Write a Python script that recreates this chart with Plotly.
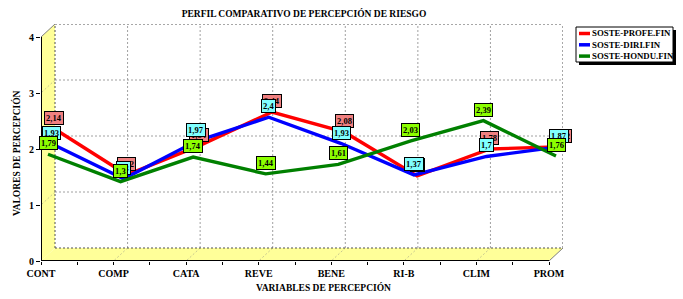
import plotly.graph_objects as go

# ---------------- data ----------------
categories = ["CONT", "COMP", "CATA", "REVE", "BENE", "RI-B", "CLIM", "PROM"]
soste_profe = [2.14, 1.32, 1.84, 2.44, 2.08, 1.30, 1.78, 1.82]
soste_diri = [1.93, 1.30, 1.97, 2.40, 1.93, 1.37, 1.70, 1.87]
soste_hondu = [1.79, 1.30, 1.74, 1.44, 1.61, 2.03, 2.39, 1.76]
series_names = ["SOSTE-PROFE.FIN", "SOSTE-DIRI.FIN", "SOSTE-HONDU.FIN"]
y_ticks = [0, 1, 2, 3, 4]

title_text = "PERFIL COMPARATIVO DE PERCEPCIÓN DE RIESGO"
x_title = "VARIABLES DE PERCEPCIÓN"
y_title = "VALORES DE PERCEPCIÓN"

# ---------------- style / geometry ----------------
W, H = 683, 299
L, R, T, B = 41, 563, 24, 261          # plot area (pixels)
DEPTH_X, DEPTH_Y = 14, 13              # 3D depth offset in pixels
YMAX = 4
N = len(categories)
px_per_cat = (R - (L + DEPTH_X)) / (N - 1)
px_per_unit = (B - DEPTH_Y - T) / YMAX
DX = DEPTH_X / px_per_cat
DY = DEPTH_Y / px_per_unit

line_colors = ["#FF0000", "#0000FF", "#008000"]
label_colors = ["#F08080", "#80FFFF", "#8CFF00"]
depths = [0.05, 0.28, 0.5]             # 0 = back wall, 1 = front
FONT = "Liberation Serif"
WALL = "#FFFF99"


def rng(d):
    return [-DX + DX * d, (N - 1) + DX * d], [-DY + DY * d, YMAX + DY * d]


def ppx(px):
    return (px - L) / (R - L)


def ppy(py):
    return (B - py) / (B - T)


fig = go.Figure()

series = [soste_profe, soste_diri, soste_hondu]
xs = list(range(N))
annotations = []
for k, (vals, name) in enumerate(zip(series, series_names)):
    ax = str(k + 3)
    fig.add_trace(go.Scatter(
        x=xs, y=vals, mode="lines", name=name,
        line=dict(color=line_colors[k], width=3.4),
        xaxis="x" + ax, yaxis="y" + ax, showlegend=False,
        hoverinfo="skip"))
for k, vals in enumerate(series):
    ax = str(k + 3)
    for i, v in enumerate(vals):
        annotations.append(dict(
            x=i, y=v, xref="x" + ax, yref="y" + ax,
            xanchor="center", yanchor="middle",
            text=f"{v:g}".replace(".", ","), showarrow=False, yshift=11,
            bgcolor=label_colors[k], bordercolor="#000000", borderwidth=1,
            borderpad=1, font=dict(family=FONT, size=8.5, color="#000000", weight="bold")))

# ---------------- 3D frame shapes (back-axis coordinates x2/y2) ----------------
shapes = []


def path(pts):
    return "M " + " L ".join(f"{x},{y}" for x, y in pts) + " Z"


# walls
shapes.append(dict(type="path", xref="x2", yref="y2", layer="below",
                   path=path([(0, 0), (0, YMAX), (-DX, YMAX - DY), (-DX, -DY)]),
                   fillcolor=WALL, line=dict(width=0)))
shapes.append(dict(type="path", xref="x2", yref="y2", layer="below",
                   path=path([(0, 0), (N - 1, 0), (N - 1 - DX, -DY), (-DX, -DY)]),
                   fillcolor=WALL, line=dict(width=0)))
# faint diagonal lines on walls
for v in y_ticks[1:-1]:
    shapes.append(dict(type="line", xref="x2", yref="y2", layer="below",
                       x0=0, y0=v, x1=-DX, y1=v - DY,
                       line=dict(color="#C8C890", width=1, dash="2px,2px")))
for i in range(1, N - 1):
    shapes.append(dict(type="line", xref="x2", yref="y2", layer="below",
                       x0=i, y0=0, x1=i - DX, y1=-DY,
                       line=dict(color="#C8C890", width=1, dash="2px,2px")))
# wall outer edges
shapes.append(dict(type="line", xref="x2", yref="y2", layer="below",
                   x0=0, y0=YMAX, x1=-DX, y1=YMAX - DY,
                   line=dict(color="#808080", width=1)))
shapes.append(dict(type="line", xref="x2", yref="y2", layer="below",
                   x0=N - 1, y0=0, x1=N - 1 - DX, y1=-DY,
                   line=dict(color="#808080", width=1)))
# back grid
for v in y_ticks[1:-1]:
    shapes.append(dict(type="line", xref="x2", yref="y2", layer="below",
                       x0=0, y0=v, x1=N - 1, y1=v,
                       line=dict(color="#A0A0A0", width=1, dash="2px,2px")))
for i in range(1, N - 1):
    shapes.append(dict(type="line", xref="x2", yref="y2", layer="below",
                       x0=i, y0=0, x1=i, y1=YMAX,
                       line=dict(color="#A0A0A0", width=1, dash="2px,2px")))
# back frame
for (x0, y0, x1, y1) in [(0, YMAX, N - 1, YMAX), (N - 1, 0, N - 1, YMAX),
                         (0, 0, 0, YMAX), (0, 0, N - 1, 0)]:
    shapes.append(dict(type="line", xref="x2", yref="y2", layer="below",
                       x0=x0, y0=y0, x1=x1, y1=y1,
                       line=dict(color="#505050", width=1, dash="2px,2px")))
# front axis lines (front coordinates x/y)
shapes.append(dict(type="line", xref="x", yref="y", layer="below",
                   x0=0, y0=0, x1=0, y1=YMAX, line=dict(color="#000000", width=2)))
shapes.append(dict(type="line", xref="x", yref="y", layer="below",
                   x0=0, y0=0, x1=N - 1, y1=0, line=dict(color="#000000", width=2)))

# ---------------- manual legend ----------------
LX0, LX1, LY0, LY1 = 576, 673, 27, 62
shapes.append(dict(type="rect", xref="paper", yref="paper", layer="above",
                   x0=ppx(LX0 + 3), x1=ppx(LX1 + 3), y0=ppy(LY1 + 3), y1=ppy(LY0 + 3),
                   fillcolor="#000000", line=dict(width=0)))
shapes.append(dict(type="rect", xref="paper", yref="paper", layer="above",
                   x0=ppx(LX0), x1=ppx(LX1), y0=ppy(LY1), y1=ppy(LY0),
                   fillcolor="#FFFFFF", line=dict(color="#000000", width=1)))
for k, name in enumerate(series_names):
    yy = 33.5 + k * 11.3
    shapes.append(dict(type="line", xref="paper", yref="paper", layer="above",
                       x0=ppx(579), x1=ppx(590), y0=ppy(yy), y1=ppy(yy),
                       line=dict(color=line_colors[k], width=3.5)))
    annotations.append(dict(x=ppx(590), y=ppy(yy), xref="paper", yref="paper",
                            text=name, showarrow=False, xanchor="left", yanchor="middle",
                            font=dict(family=FONT, size=8.8, color="#000000", weight="bold")))

# axis titles
annotations.append(dict(x=ppx(323), y=ppy(287), xref="paper", yref="paper",
                        text=x_title, showarrow=False, xanchor="center", yanchor="middle",
                        font=dict(family=FONT, size=9.5, color="#000000", weight="bold")))
annotations.append(dict(x=ppx(16), y=ppy(153), xref="paper", yref="paper",
                        text=y_title, showarrow=False, textangle=-90,
                        xanchor="center", yanchor="middle",
                        font=dict(family=FONT, size=9.5, color="#000000", weight="bold")))

# ---------------- axes ----------------
xr_front, yr_front = rng(1)
xr_back, yr_back = rng(0)
tickfont = dict(family=FONT, size=10, color="#000000", weight="bold")
layout_axes = dict(
    xaxis=dict(range=xr_front, tickmode="array", tickvals=xs, ticktext=categories,
               showgrid=False, zeroline=False, showline=False, ticks="outside",
               ticklen=3, tickcolor="#000000", tickfont=tickfont,
               minor=dict(tickvals=[i + 0.5 for i in range(N - 1)], ticks="outside",
                          ticklen=3, tickcolor="#000000", showgrid=False),
               fixedrange=True),
    yaxis=dict(range=yr_front, tickmode="array", tickvals=y_ticks,
               showgrid=False, zeroline=False, showline=False, ticks="outside",
               ticklen=4, tickcolor="#000000", tickfont=tickfont, fixedrange=True),
    xaxis2=dict(range=xr_back, overlaying="x", visible=False),
    yaxis2=dict(range=yr_back, overlaying="y", visible=False),
)
for k, d in enumerate(depths):
    xr, yr = rng(d)
    layout_axes[f"xaxis{k + 3}"] = dict(range=xr, overlaying="x", visible=False)
    layout_axes[f"yaxis{k + 3}"] = dict(range=yr, overlaying="y", visible=False)

fig.update_layout(
    width=W, height=H, autosize=False,
    margin=dict(l=L, r=W - R, t=T, b=H - B, pad=0),
    paper_bgcolor="#FFFFFF", plot_bgcolor="#FFFFFF",
    title=dict(text=title_text, x=304 / W, xref="container", xanchor="center",
               y=1 - 14 / H, yref="container", yanchor="middle",
               font=dict(family=FONT, size=9.5, color="#000000", weight="bold")),
    shapes=shapes, annotations=annotations, showlegend=False,
    **layout_axes,
)

fig.write_html("out.html", config={"displayModeBar": False},
               post_script="document.body.style.margin='0';document.body.style.overflow='hidden';")
